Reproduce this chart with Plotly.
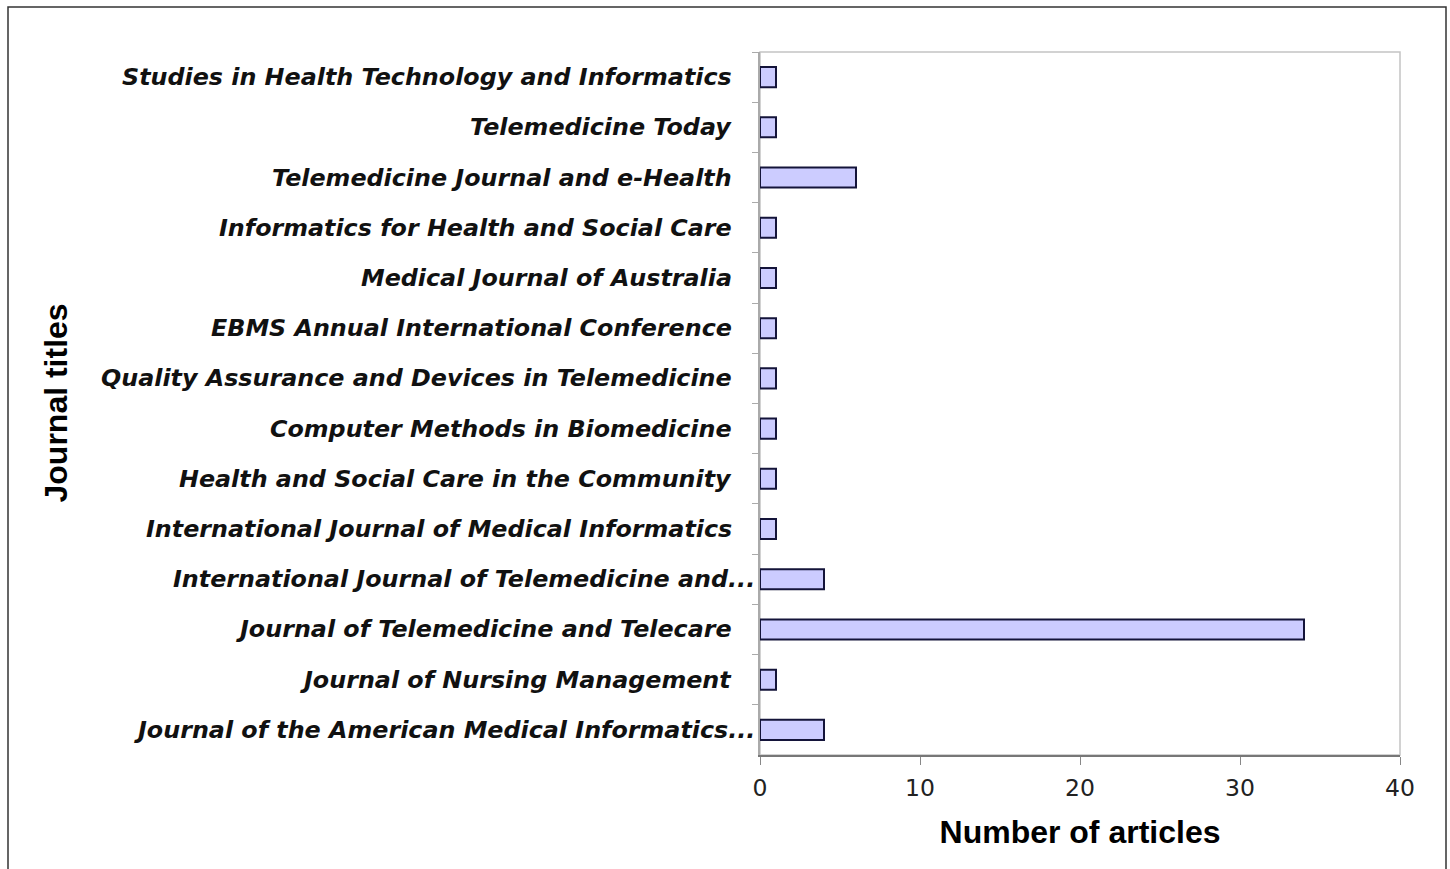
import plotly.graph_objects as go

journals = [
    "Studies in Health Technology and Informatics",
    "Telemedicine Today",
    "Telemedicine Journal and e-Health",
    "Informatics for Health and Social Care",
    "Medical Journal of Australia",
    "EBMS Annual International Conference",
    "Quality Assurance and Devices in Telemedicine",
    "Computer Methods in Biomedicine",
    "Health and Social Care in the Community",
    "International Journal of Medical Informatics",
    "International Journal of Telemedicine and...",
    "Journal of Telemedicine and Telecare",
    "Journal of Nursing Management",
    "Journal of the American Medical Informatics...",
]
articles = [1, 1, 6, 1, 1, 1, 1, 1, 1, 1, 4, 34, 1, 4]
x_ticks = [0, 10, 20, 30, 40]

W, H = 1450, 869
L, R, T, B = 760, 50, 52, 114
pw, ph = W - L - R, H - T - B

def px(x):
    return (x - L) / pw

def py(y):
    return (H - B - y) / ph

fig = go.Figure()
fig.add_trace(go.Bar(
    y=journals, x=articles, orientation="h",
    marker=dict(color="#ccccff", line=dict(color="#14143a", width=2)),
    hoverinfo="x+y",
))

for name in journals:
    trunc = name.endswith("...")
    fig.add_annotation(
        x=0, xref="paper", y=name, yref="y",
        text="<b><i>%s</i></b>" % name,
        xanchor="right", yanchor="middle",
        xshift=-3 if trunc else -26,
        showarrow=False,
        font=dict(family="DejaVu Sans", size=23.8, color="#111111"),
    )

fig.add_annotation(
    x=px(55), xref="paper", y=0.5, yref="paper",
    text="<b>Journal titles</b>", textangle=-90,
    xanchor="center", yanchor="middle", showarrow=False,
    font=dict(family="Liberation Sans", size=32, color="#000000"),
)

# plot area border (top/right)
fig.add_shape(type="rect", xref="paper", yref="paper", x0=0, x1=1, y0=0, y1=1,
              line=dict(color="#c4c4c4", width=1.5), layer="below")
# outer frame
fig.add_shape(type="rect", xref="paper", yref="paper",
              x0=px(8), x1=px(1446), y0=py(880), y1=py(7),
              line=dict(color="#333333", width=1.5))

fig.update_layout(
    width=W, height=H,
    margin=dict(l=L, r=R, t=T, b=B, pad=0),
    paper_bgcolor="white", plot_bgcolor="white",
    showlegend=False, bargap=0.6,
    xaxis=dict(
        range=[0, 40], tickvals=x_ticks, ticks="outside", ticklen=8,
        tickcolor="#888888", showgrid=False, zeroline=False,
        showline=True, linecolor="#777777", linewidth=1.5,
        ticklabelstandoff=3,
        tickfont=dict(family="DejaVu Sans", size=23.5, color="#222222"),
        title=dict(text="<b>Number of articles</b>", standoff=20,
                   font=dict(family="Liberation Sans", size=32, color="#000000")),
    ),
    yaxis=dict(
        autorange="reversed", showticklabels=False, ticks="outside",
        ticklen=6, tickcolor="#aaaaaa", tickson="boundaries",
        showgrid=False, zeroline=False,
        showline=True, linecolor="#aaaaaa", linewidth=1.5,
    ),
)

fig.write_html("out.html", config={"displayModeBar": False},
               post_script="document.body.style.margin='0';document.body.style.overflow='hidden';")
